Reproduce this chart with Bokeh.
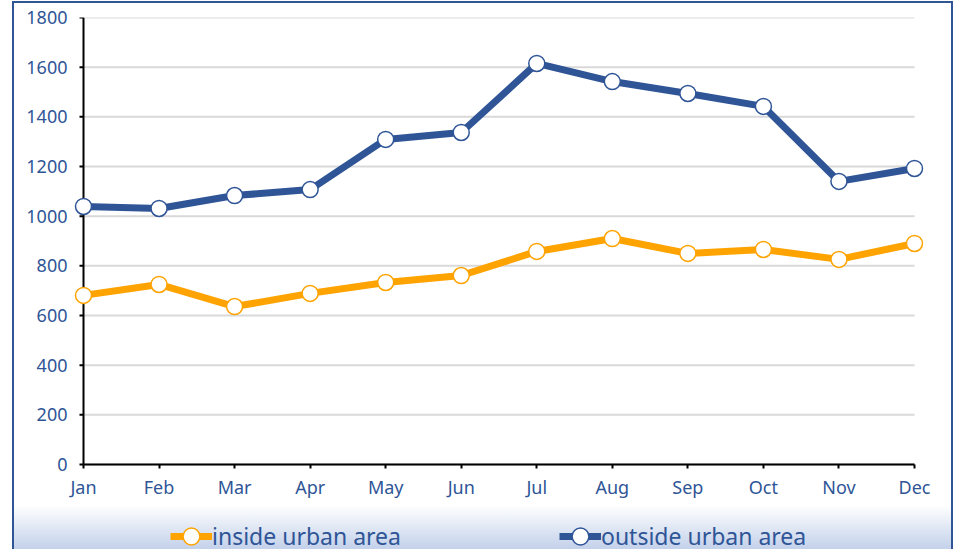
import numpy as np
from bokeh.plotting import figure
from bokeh.models import Range1d, FixedTicker, Legend, LegendItem
from bokeh.embed import file_html
from bokeh.resources import INLINE

months = ["Jan", "Feb", "Mar", "Apr", "May", "Jun", "Jul", "Aug", "Sep", "Oct", "Nov", "Dec"]
inside_urban = [681, 725, 636, 689, 733, 761, 858, 910, 850, 866, 826, 890]
outside_urban = [1039, 1031, 1083, 1107, 1309, 1337, 1615, 1542, 1494, 1442, 1140, 1192]
y_ticks = [0, 200, 400, 600, 800, 1000, 1200, 1400, 1600, 1800]

BLUE = "#2f5597"
ORANGE = "#ffa300"
FONT = "Noto Sans"

xs = list(range(len(months)))
pad = 16 / (831 / (len(months) - 1))  # room so edge markers / labels are not clipped
below = y_ticks[-1] * 87 / 447         # room under zero for labels and legend (inside frame)

p = figure(
    width=941, height=548,
    x_range=Range1d(xs[0] - pad, xs[-1] + pad),
    y_range=Range1d(y_ticks[0] - below, y_ticks[-1]),
    output_backend="svg", toolbar_location=None,
    min_border_left=53, min_border_right=25, min_border_top=14, min_border_bottom=0,
    background_fill_alpha=0.0, border_fill_alpha=0.0,
    styles={
        "position": "absolute", "left": "12px", "top": "1px",
        "border-left": f"2px solid {BLUE}", "border-top": f"2px solid {BLUE}",
        "border-right": f"2px solid {BLUE}",
        "background": "linear-gradient(to bottom, #ffffff 0%, #ffffff 92%, #c3d1ea 100%)",
    },
)
p.outline_line_color = None

# grid lines drawn between first and last month only
p.xgrid.grid_line_color = None
p.ygrid.grid_line_color = None
p.segment(x0=[xs[0]] * len(y_ticks), x1=[xs[-1]] * len(y_ticks), y0=y_ticks, y1=y_ticks,
          line_color="#d9d9d9", line_width=2)
# y axis line and its outward ticks at the first month
p.segment(x0=[xs[0]], x1=[xs[0]], y0=[y_ticks[0]], y1=[y_ticks[-1]],
          line_color="black", line_width=2)
p.ray(x=[xs[0]] * len(y_ticks), y=y_ticks, length=4, length_units="screen", angle=np.pi,
      line_color="black", line_width=2)

# axes
p.yaxis.ticker = FixedTicker(ticks=y_ticks)
p.yaxis.axis_line_color = None
p.yaxis.major_tick_line_color = None
p.yaxis.major_tick_in = 0
p.yaxis.major_tick_out = 0
p.yaxis.major_label_standoff = 0

p.xaxis.fixed_location = y_ticks[0]
p.xaxis.ticker = FixedTicker(ticks=xs)
p.xaxis.bounds = (xs[0], xs[-1])
p.xaxis.major_label_overrides = {i: m for i, m in enumerate(months)}
p.xaxis.axis_line_color = "black"
p.xaxis.axis_line_width = 2
p.xaxis.major_tick_line_color = "black"
p.xaxis.major_tick_line_width = 2
p.xaxis.major_tick_in = 0
p.xaxis.major_tick_out = 4
p.xaxis.major_label_standoff = 6
for ax in (p.xaxis, p.yaxis):
    ax.minor_tick_line_color = None
    ax.major_label_text_color = BLUE
    ax.major_label_text_font = FONT
    ax.major_label_text_font_size = "18px"

# series
l1 = p.line(xs, inside_urban, line_color=ORANGE, line_width=7)
c1 = p.scatter(xs, inside_urban, size=16, fill_color="white", line_color=ORANGE, line_width=1.5)
l2 = p.line(xs, outside_urban, line_color=BLUE, line_width=7)
c2 = p.scatter(xs, outside_urban, size=16, fill_color="white", line_color=BLUE, line_width=1.5)

legend = Legend(
    items=[
        LegendItem(label="inside urban area", renderers=[l1, c1]),
        LegendItem(label="outside urban area", renderers=[l2, c2]),
    ],
    orientation="horizontal",
    location=(103, -6),
    label_text_font=FONT, label_text_font_size="23px", label_text_color=BLUE,
    glyph_width=42, glyph_height=42, label_standoff=0, spacing=158,
    background_fill_alpha=0, border_line_color=None, padding=0, margin=0,
)
p.add_layout(legend, "center")

open("out.html", "w").write(file_html(p, INLINE))
